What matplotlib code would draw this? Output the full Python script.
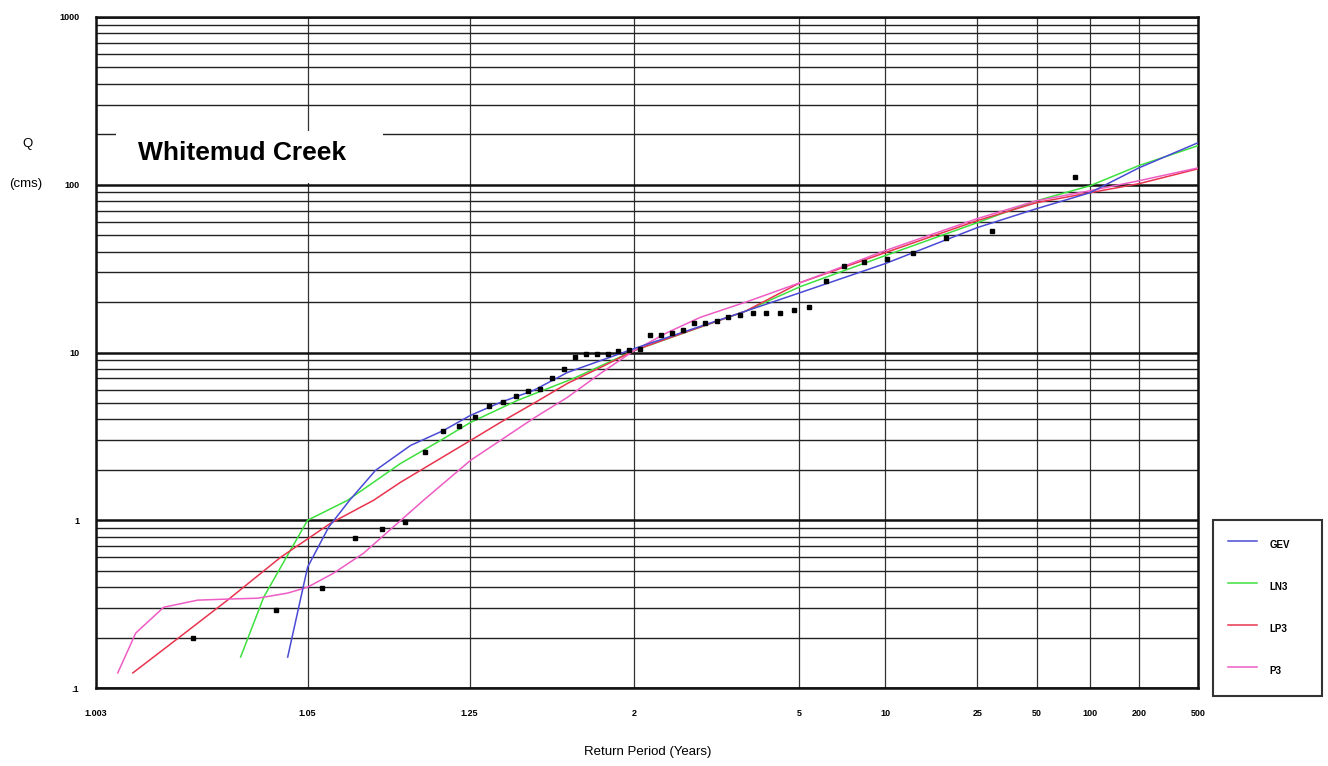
import numpy as np
import matplotlib
matplotlib.use('Agg')
import matplotlib.pyplot as plt
from matplotlib.ticker import FixedLocator, FixedFormatter, LogLocator, NullFormatter
from matplotlib.patches import Rectangle
from math import erfc

# ---------------- data ----------------
x_ticks = [1.003, 1.05, 1.25, 2, 5, 10, 25, 50, 100, 200, 500]
x_tick_labels = ['1.003', '1.05', '1.25', '2', '5', '10', '25', '50', '100', '200', '500']
y_ticks = [0.1, 1, 10, 100, 1000]
y_tick_labels = ['.1', '1', '10', '100', '1000']

obs_T = [1.0123, 1.0350, 1.0588, 1.0837, 1.1097, 1.1371, 1.1658, 1.1961, 1.2279, 1.2615,
         1.2970, 1.3345, 1.3743, 1.4165, 1.4613, 1.5092, 1.5602, 1.6149, 1.6734, 1.7365,
         1.8044, 1.8779, 1.9576, 2.0444, 2.1392, 2.2432, 2.3579, 2.4849, 2.6264, 2.7850,
         2.9640, 3.1676, 3.4012, 3.6720, 3.9896, 4.3674, 4.8243, 5.3878, 6.1005, 7.0306,
         8.2950, 10.114, 12.955, 18.016, 29.564, 82.36]
obs_Q = [0.198, 0.291, 0.394, 0.782, 0.883, 0.973, 2.54, 3.39, 3.63, 4.10,
         4.77, 5.04, 5.47, 5.86, 6.02, 7.0, 7.92, 9.34, 9.73, 9.73,
         9.86, 10.14, 10.28, 10.56, 12.8, 12.8, 13.15, 13.7, 14.9, 14.9,
         15.5, 16.2, 16.8, 17.1, 17.3, 17.3, 18.0, 18.8, 26.8, 33.0,
         34.8, 36.3, 39.4, 48.4, 53.2, 111.6]

gev_T = [1.0399, 1.050, 1.063, 1.0787, 1.1028, 1.1448, 1.1976, 1.2522, 1.328, 1.4354,
         1.5778, 2.0, 3.5, 5.04, 10, 25, 50, 100, 200, 500]
gev_Q = [0.153, 0.525, 0.909, 1.315, 1.985, 2.79, 3.43, 4.22, 5.04, 5.94,
         7.6, 10.56, 17.6, 22.75, 33.9, 55.5, 72.0, 89.6, 126, 178]

ln3_T = [1.0227, 1.0301, 1.0368, 1.050, 1.0771, 1.1316, 1.192, 1.2522, 1.3798, 1.6073,
         2.0, 3.5, 5.04, 10, 25, 50, 100, 200, 500]
ln3_Q = [0.153, 0.348, 0.525, 1.0, 1.315, 2.18, 2.99, 3.83, 5.18, 7.0,
         10.28, 17.6, 24.7, 37.8, 59.4, 80.3, 98.6, 130, 171]

lp3_T = [1.00525, 1.00995, 1.01926, 1.0368, 1.0644, 1.1007, 1.1316, 1.2522, 1.328, 1.4354,
         1.5778, 1.7584, 2.0, 2.3089, 3.5, 5.04, 10, 25, 50, 100, 200, 500]
lp3_Q = [0.123, 0.197, 0.334, 0.602, 0.960, 1.315, 1.684, 2.99, 3.83, 4.97,
         6.54, 8.14, 10.28, 12.1, 17.6, 26.1, 39.4, 61.1, 78.2, 89.6, 101.4, 124.5]

p3_T = [1.00419, 1.00548, 1.0082, 1.01305, 1.01926, 1.0280, 1.0399, 1.050, 1.0664, 1.0910,
        1.1278, 1.1639, 1.2522, 1.328, 1.4354, 1.5778, 1.7584, 2.0, 2.3089, 2.716,
        3.610, 5.04, 10, 25, 50, 100, 200, 500]
p3_Q = [0.123, 0.2126, 0.303, 0.334, 0.339, 0.343, 0.368, 0.399, 0.4836, 0.636,
        0.960, 1.315, 2.275, 2.99, 4.05, 5.40, 7.50, 10.28, 13.15, 16.2,
        20.4, 26.1, 40.5, 62.8, 80.3, 92.1, 105.6, 126]

# ---------------- normal-probability scale for return period ----------------
_erfc = np.vectorize(erfc)
_Z = np.linspace(-9, 9, 36001)
_LOGQ = np.log(0.5 * _erfc(_Z / np.sqrt(2)))


def T_to_z(T):
    T = np.asarray(T, float)
    lq = -np.log(np.clip(T, 1.0 + 1e-15, 1e15))
    return np.interp(lq, _LOGQ[::-1], _Z[::-1])


def z_to_T(z):
    z = np.clip(np.asarray(z, float), -9, 9)
    return 1.0 / (0.5 * _erfc(z / np.sqrt(2)))


# ---------------- figure ----------------
W, H = 1328, 766
fig = plt.figure(figsize=(W / 100, H / 100), dpi=100)
ax_l, ax_r, ax_t, ax_b = 96, 1198, 17, 688
ax = fig.add_axes([ax_l / W, 1 - ax_b / H, (ax_r - ax_l) / W, (ax_b - ax_t) / H])

ax.set_xscale('function', functions=(T_to_z, z_to_T))
ax.set_yscale('log')
ax.set_xlim(x_ticks[0], x_ticks[-1])
ax.set_ylim(y_ticks[0], y_ticks[-1])

tick_font = dict(family='Liberation Sans', size=6.5, weight='bold')
ax.xaxis.set_major_locator(FixedLocator(x_ticks))
ax.xaxis.set_major_formatter(FixedFormatter(x_tick_labels))
ax.xaxis.set_minor_locator(FixedLocator([]))
ax.yaxis.set_major_locator(FixedLocator(y_ticks))
ax.yaxis.set_major_formatter(FixedFormatter(y_tick_labels))
ax.yaxis.set_minor_locator(LogLocator(base=10, subs=np.arange(2, 10)))
ax.yaxis.set_minor_formatter(NullFormatter())
ax.tick_params(which='both', length=0)
ax.tick_params(axis='x', pad=15)
ax.tick_params(axis='y', pad=12)
for lbl in ax.get_xticklabels() + ax.get_yticklabels():
    lbl.set_fontfamily(tick_font['family'])
    lbl.set_fontsize(tick_font['size'])
    lbl.set_fontweight(tick_font['weight'])

ax.set_axisbelow(True)
ax.grid(which='major', axis='y', color='#111111', lw=1.8)
ax.grid(which='minor', axis='y', color='#222222', lw=1.0)
ax.grid(which='major', axis='x', color='#333333', lw=0.9)
for s in ax.spines.values():
    s.set_linewidth(1.8)
    s.set_color('#111111')

# white title box
ax.add_patch(Rectangle(((116 - ax_l) / (ax_r - ax_l), (ax_b - 183) / (ax_b - ax_t)),
                       267 / (ax_r - ax_l), 52 / (ax_b - ax_t),
                       transform=ax.transAxes, facecolor='white', edgecolor='none', zorder=1))
ax.text((138 - ax_l) / (ax_r - ax_l), (ax_b - 160) / (ax_b - ax_t), 'Whitemud Creek',
        transform=ax.transAxes, fontsize=19, fontweight='bold', family='Liberation Sans',
        ha='left', va='baseline', zorder=3)

# curves
ax.plot(gev_T, gev_Q, color='#4a4ad6', lw=1.1, label='GEV', zorder=4)
ax.plot(ln3_T, ln3_Q, color='#3ee03e', lw=1.1, label='LN3', zorder=3)
ax.plot(lp3_T, lp3_Q, color='#e8344e', lw=1.1, label='LP3', zorder=3)
ax.plot(p3_T, p3_Q, color='#ee5cc4', lw=1.1, label='P3', zorder=3)
ax.plot(obs_T, obs_Q, linestyle='none', marker='s', ms=2.6, color='black', zorder=5)

# axis titles
fig.text(28 / W, 1 - 144 / H, 'Q', ha='center', va='center', fontsize=9.5, family='Liberation Sans')
fig.text(26 / W, 1 - 184 / H, '(cms)', ha='center', va='center', fontsize=9.5, family='Liberation Sans')
fig.text(648 / W, 1 - 752 / H, 'Return Period (Years)', ha='center', va='center',
         fontsize=9.5, family='Liberation Sans')

# legend
leg = fig.legend(loc='upper left', bbox_to_anchor=(1213 / W, 1 - 690 / H, 109 / W, 170 / H),
                 mode='expand',
                 prop=dict(family='Liberation Sans', size=7, weight='bold'),
                 handlelength=3.0, handleheight=3.0, handletextpad=1.3, labelspacing=2.12,
                 borderpad=1.5, borderaxespad=0, frameon=True, fancybox=False)
leg.get_frame().set_edgecolor('black')
leg.get_frame().set_linewidth(1.5)

fig.savefig('out.png', dpi=100, facecolor='white')
